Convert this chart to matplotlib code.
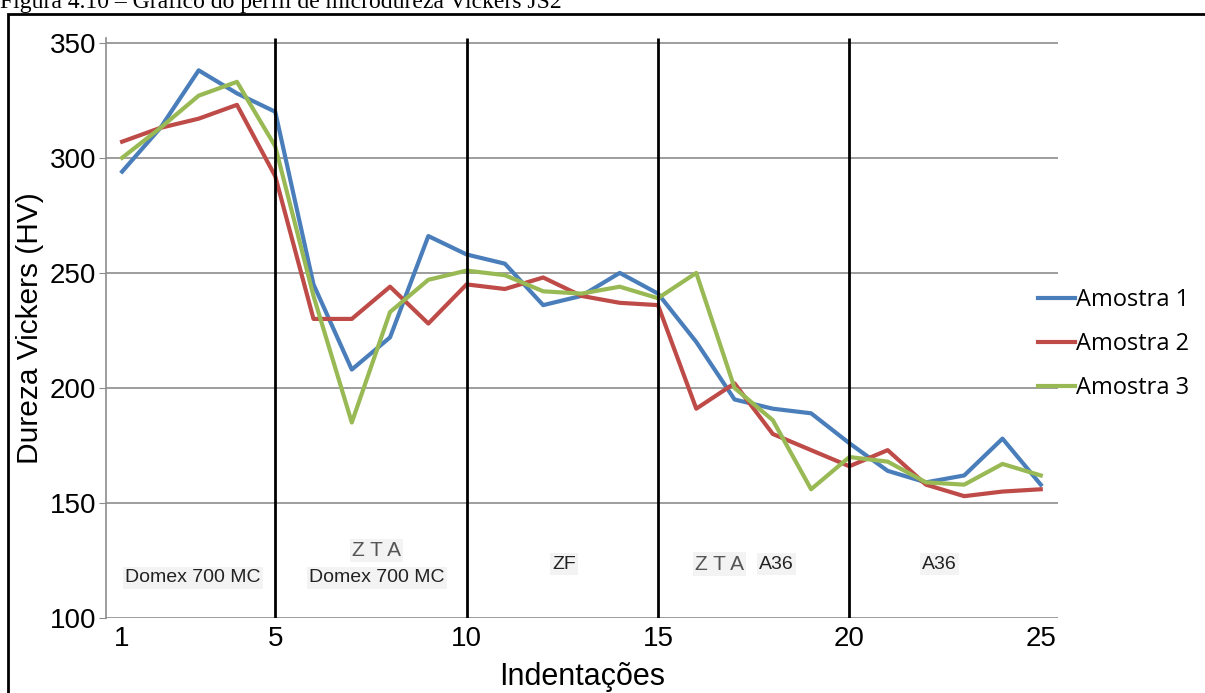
import matplotlib
matplotlib.use('Agg')
import matplotlib.pyplot as plt
from matplotlib.patches import Rectangle

# data
indentacoes = list(range(1, 26))
amostra_1 = [294, 313, 338, 328, 320, 245, 208, 222, 266, 258, 254, 236, 240,
             250, 241, 220, 195, 191, 189, 176, 164, 159, 162, 178, 158]
amostra_2 = [307, 313, 317, 323, 292, 230, 230, 244, 228, 245, 243, 248, 240,
             237, 236, 191, 202, 180, 173, 166, 173, 158, 153, 155, 156]
amostra_3 = [300, 313, 327, 333, 305, 240, 185, 233, 247, 251, 249, 242, 241,
             244, 239, 250, 200, 186, 156, 170, 168, 159, 158, 167, 162]
series_names = ['Amostra 1', 'Amostra 2', 'Amostra 3']
x_ticks = [1, 5, 10, 15, 20, 25]
y_ticks = [100, 150, 200, 250, 300, 350]
region_bounds = [5, 10, 15, 20]

colors = ['#4a7ebb', '#be4b48', '#98b954']

fig = plt.figure(figsize=(12.05, 6.93), dpi=100)
ax = fig.add_axes([0.088, 0.108, 0.79, 0.837])

for ys, name, c in zip([amostra_1, amostra_2, amostra_3], series_names, colors):
    ax.plot(indentacoes, ys, color=c, linewidth=3, label=name, zorder=3)

# zone boundaries
ax.vlines(region_bounds, 100, 352, colors='black', linewidth=2, zorder=4)

ax.set_xlim(0.58, 25.45)
ax.set_ylim(100, 352)
ax.set_xticks(x_ticks)
ax.set_yticks(y_ticks)
ax.yaxis.grid(True, color='#8c8c8c', linewidth=1.2)
ax.set_axisbelow(True)
for s in ['top', 'right', 'bottom']:
    ax.spines[s].set_visible(False)
ax.spines['left'].set_color('#8c8c8c')
ax.spines['left'].set_linewidth(1.2)
ax.tick_params(axis='x', length=0, labelsize=20, pad=6)
ax.tick_params(axis='y', length=5, color='#8c8c8c', labelsize=20, pad=2)
for lab in ax.get_xticklabels() + ax.get_yticklabels():
    lab.set_family('Liberation Sans')

ax.set_xlabel('Indentações', fontsize=22, family='Liberation Sans', labelpad=7)
ax.set_ylabel('Dureza Vickers (HV)', fontsize=21.5, family='Liberation Sans', labelpad=4)

# zone labels
box = dict(facecolor='#f3f3f3', edgecolor='none', pad=1.5)
txt = dict(fontsize=14, color='#222222', family='Liberation Sans', ha='center', va='center', bbox=box)
zta = dict(fontsize=15, color='#555555', family='Liberation Sans', ha='center', va='center', bbox=box)
ax.text(2.85, 117.5, 'Domex 700 MC', **txt)
ax.text(7.65, 117.5, 'Domex 700 MC', **txt)
ax.text(7.65, 129.5, 'Z T A', **zta)
ax.text(12.55, 123.5, 'ZF', **txt)
ax.text(16.6, 123.5, 'Z T A', **zta)
ax.text(18.1, 123.5, 'A36', **txt)
ax.text(22.35, 123.5, 'A36', **txt)

fig.legend(loc='center left', bbox_to_anchor=(0.861, 0.503), frameon=False,
           borderpad=0, borderaxespad=0, handlelength=1.6, handletextpad=0.05,
           labelspacing=0.85, prop={'family': 'Open Sans', 'size': 17})

# figure frame and cropped caption
fig.patches.append(Rectangle((8 / 1205, -0.01), 1.02, 1 - 14 / 693 + 0.01,
                             transform=fig.transFigure, fill=False,
                             edgecolor='black', linewidth=2))
fig.text(0.0, 1 - 8 / 693, 'Figura 4.10 – Gráfico do perfil de microdureza Vickers JS2',
         fontsize=17, family='Liberation Serif', va='baseline', ha='left')

fig.savefig('out.png', dpi=100)
